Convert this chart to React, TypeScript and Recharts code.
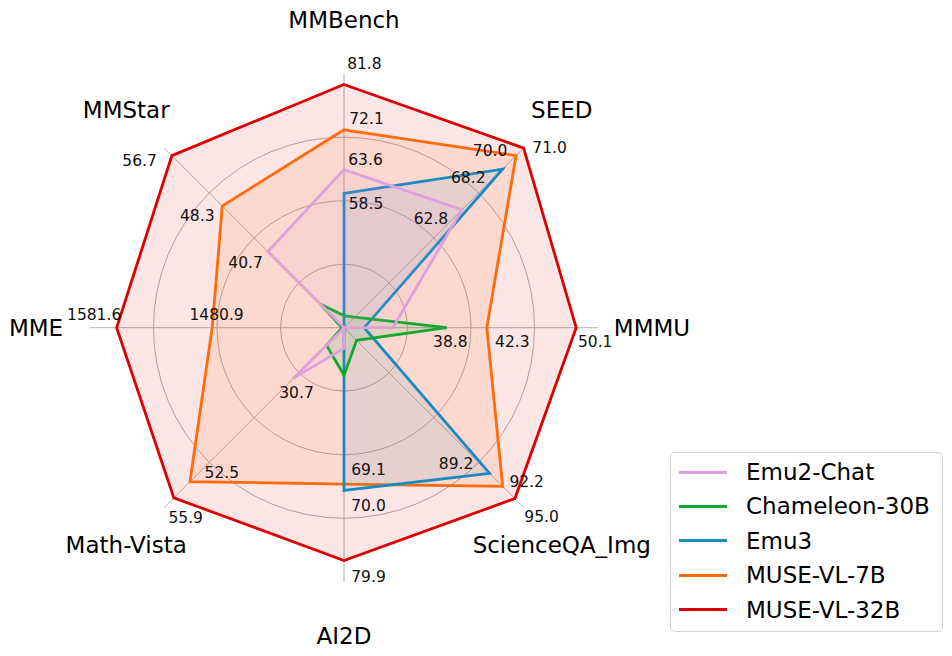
import { RadarChart, Radar, PolarGrid, PolarAngleAxis, PolarRadiusAxis } from "recharts";

const AXES = ["MMBench", "SEED", "MMMU", "ScienceQA_Img", "AI2D", "Math-Vista", "MME", "MMStar"];

// scores per benchmark, same order as AXES (null = not reported)
const EMU2_CHAT = [63.6, 62.8, 34.1, null, 49.9, 30.7, null, 40.7];
const CHAMELEON_30B = [32.4, 48.5, 38.8, 58.7, 53.7, 23.7, 1344, 31.9];
const EMU3 = [58.5, 68.2, 31.6, 89.2, 70.0, null, null, null];
const MUSE_VL_7B = [72.1, 70.0, 42.3, 92.2, 69.1, 52.5, 1480.9, 48.3];
const MUSE_VL_32B = [81.8, 71.0, 50.1, 95.0, 79.9, 55.9, 1581.6, 56.7];

// each spoke has its own scale: value at centre / at the outer rim
const AXIS_MIN = [29.8, 47.1, 29.84, 55.8, 47.0, 20.0, 1342, 28.0];
const AXIS_MAX = [84.1, 71.0, 52.0, 97.0, 82.9, 57.9, 1609.7, 57.95];

const SERIES = [
  { key: "emu2", name: "Emu2-Chat", color: "#DDA0DD", values: EMU2_CHAT },
  { key: "chameleon", name: "Chameleon-30B", color: "#12A830", values: CHAMELEON_30B },
  { key: "emu3", name: "Emu3", color: "#1A8AC0", values: EMU3 },
  { key: "muse7", name: "MUSE-VL-7B", color: "#FF6A0A", values: MUSE_VL_7B },
  { key: "muse32", name: "MUSE-VL-32B", color: "#DD0000", values: MUSE_VL_32B },
];

// where each value label sits relative to its vertex (null = no label)
const LABEL_OFFSET: Record<string, (number[] | null)[]> = {
  emu2: [[21.5, -10], [-31, 9], null, null, null, [3.2, 14.2], null, [-22.3, 11.6]],
  chameleon: [null, null, [3.6, 14], null, null, null, null, null],
  emu3: [[22, 10.4], [-34.3, 8.4], null, [-33.5, -9.3], [24.5, 15.5], null, null, null],
  muse7: [[22.5, -11], [-26, -5], [25.5, 14], [24, -4], [24.5, -13.6], [31.8, -9], [4.4, -12.7], [-25, 10.3]],
  muse32: [[20.4, -20.8], [26, 0], [19, 14], [26.7, 18.4], [24.5, 17], [11.8, 19.7], [-22.5, -12.7], [-32.3, 5]],
};

const FONT = "'DejaVu Sans', sans-serif";
const W = 952;
const H = 656;
const R = 254;

const norm = (v: number | null, i: number) =>
  v == null ? 0 : (v - AXIS_MIN[i]) / (AXIS_MAX[i] - AXIS_MIN[i]);

const data = AXES.map((axis, i) => {
  const row: any = { axis };
  SERIES.forEach((s) => (row[s.key] = norm(s.values[i], i)));
  return row;
});

const makeLabel = (s: (typeof SERIES)[number]) => (props: any) => {
  const i = props.index;
  const off = LABEL_OFFSET[s.key][i];
  const v = s.values[i];
  if (!off || v == null) return <g key={`lbl-${s.key}-${i}`} />;
  return (
    <text
      key={`lbl-${s.key}-${i}`}
      x={props.cx + off[0]}
      y={props.cy + off[1]}
      textAnchor="middle"
      dominantBaseline="central"
      fontSize={15.5}
      fontFamily={FONT}
      fill="#111"
    >
      {v.toFixed(1)}
    </text>
  );
};

const renderAxisTick = ({ x, y, payload }: any) => (
  <text x={x} y={y} textAnchor="middle" dominantBaseline="central" fontSize={23} fontFamily={FONT} fill="#000">
    {payload.value}
  </text>
);

export default function App() {
  const drawOrder = [...SERIES].reverse();
  return (
    <div style={{ position: "absolute", left: 0, top: 0, width: W, height: H, background: "#fff", fontFamily: FONT }}>
      <RadarChart
        width={W}
        height={H}
        data={data}
        cx={344}
        cy={327.7}
        outerRadius={R}
        margin={{ top: 0, right: 0, bottom: 0, left: 0 }}
      >
        <PolarGrid
          gridType="circle"
          polarRadius={[0.25, 0.5, 0.75].map((f) => f * R)}
          stroke="#b0b0b0"
          strokeWidth={1}
        />
        <PolarAngleAxis dataKey="axis" tick={renderAxisTick} tickLine={false} axisLine={false} tickSize={54} />
        <PolarRadiusAxis domain={[0, 1]} tick={false} axisLine={false} />
        {drawOrder.map((s) => (
          <Radar
            key={s.key}
            name={s.name}
            dataKey={s.key}
            stroke={s.color}
            strokeWidth={2.8}
            fill={s.color}
            fillOpacity={0.1}
            dot={false}
            isAnimationActive={false}
          />
        ))}
        {drawOrder.map((s) => (
          <Radar
            key={`labels-${s.key}`}
            dataKey={s.key}
            stroke="none"
            fill="none"
            legendType="none"
            dot={makeLabel(s)}
            activeDot={false}
            isAnimationActive={false}
          />
        ))}
      </RadarChart>
      <div
        style={{
          position: "absolute",
          left: 670,
          top: 452,
          width: 271,
          height: 178,
          border: "1px solid #d3d3d3",
          borderRadius: 5,
          background: "#fff",
        }}
      >
        {SERIES.map((s, i) => (
          <div
            key={s.key}
            style={{ position: "absolute", left: 0, top: 19 + i * 34.4 - 17, height: 34, width: "100%", display: "flex", alignItems: "center" }}
          >
            <div style={{ marginLeft: 8, width: 48, height: 3, background: s.color }} />
            <span style={{ marginLeft: 19, fontSize: 23, color: "#000", fontFamily: FONT, lineHeight: "34px" }}>{s.name}</span>
          </div>
        ))}
      </div>
    </div>
  );
}
